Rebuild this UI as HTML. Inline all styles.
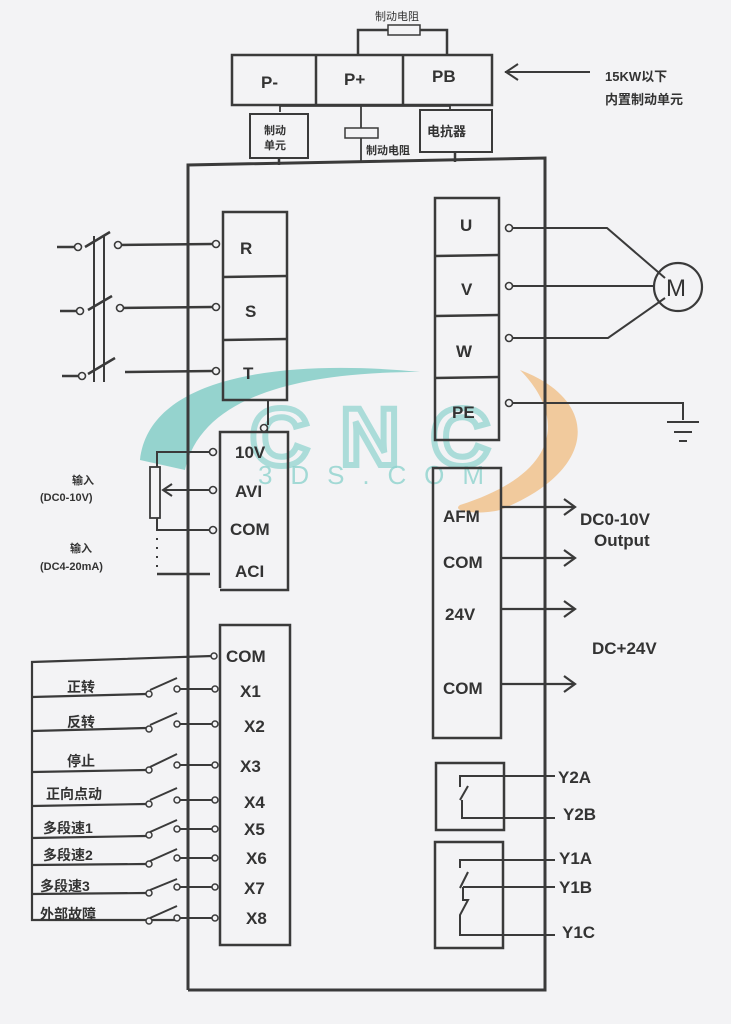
<!DOCTYPE html>
<html><head><meta charset="utf-8"><style>
html,body{margin:0;padding:0;background:#f3f3f5;}
svg{display:block}
text{font-family:"Liberation Sans","Noto Sans CJK SC",sans-serif;fill:#333;font-weight:bold}
</style></head><body>
<svg width="731" height="1024" viewBox="0 0 731 1024" xmlns="http://www.w3.org/2000/svg">
<rect width="731" height="1024" fill="#f3f3f5"/>
<!-- watermark -->
<path d="M140,460 C150,370 300,360 420,372 C290,372 200,400 185,470 Z" fill="#6cc4be" opacity="0.7"/>
<path d="M520,370 C600,400 600,470 500,510 C480,515 450,512 460,505 C570,470 560,410 520,370 Z" fill="#f0b878" opacity="0.7"/>
<text x="250" y="465" font-size="82" style="fill:none;stroke:#8ed3ce;stroke-width:6" opacity="0.7" textLength="240">CNC</text>
<text x="258" y="484" font-size="26" style="fill:#8ed3ce;font-weight:normal" opacity="0.8" textLength="226">3DS.COM</text>
<g stroke="#3a3a3a" stroke-width="2.5" fill="none">
<!-- top -->
<rect x="232" y="55" width="260" height="50"/>
<line x1="316" y1="55" x2="316" y2="105"/><line x1="403" y1="55" x2="403" y2="105"/>
<polyline points="358,55 358,30 447,30 447,55"/>
<rect x="388" y="25" width="32" height="10" fill="#f3f3f5" stroke-width="1.5"/>
<line x1="505" y1="72" x2="590" y2="72" stroke-width="2"/>
<polyline points="518,64 506,72 518,80" stroke-width="2"/>
<polyline points="280,112 280,106 450,106 450,110" stroke-width="1.8"/>
<rect x="250" y="114" width="58" height="44" stroke-width="2"/>
<rect x="420" y="110" width="72" height="42" stroke-width="2"/>
<line x1="361" y1="106" x2="361" y2="162" stroke-width="1.8"/>
<rect x="345" y="128" width="33" height="10" fill="#f3f3f5" stroke-width="1.5"/>
<line x1="279" y1="158" x2="279" y2="165"/><line x1="455" y1="152" x2="455" y2="162"/>
<!-- main -->
<polyline points="188,990 188,165 545,158 545,990 188,990" stroke-width="3"/>
<!-- RST -->
<rect x="223" y="212" width="64" height="188"/>
<line x1="223" y1="277" x2="287" y2="276"/><line x1="223" y1="340" x2="287" y2="339"/>
<line x1="118" y1="245" x2="212" y2="244"/><line x1="120" y1="308" x2="212" y2="307"/><line x1="125" y1="372" x2="212" y2="371"/>
<line x1="57" y1="247" x2="76" y2="247"/><line x1="60" y1="311" x2="78" y2="311"/><line x1="62" y1="376" x2="80" y2="376"/>
<line x1="94" y1="236" x2="94" y2="382" stroke-width="2"/><line x1="104" y1="236" x2="104" y2="382" stroke-width="2"/>
<line x1="85" y1="247" x2="110" y2="232"/><line x1="88" y1="310" x2="112" y2="296"/><line x1="88" y1="374" x2="115" y2="358"/>
<g stroke-width="1.6" fill="#f3f3f5">
<circle cx="78" cy="247" r="3.5"/><circle cx="118" cy="245" r="3.5"/><circle cx="216" cy="244" r="3.5"/>
<circle cx="80" cy="311" r="3.5"/><circle cx="120" cy="308" r="3.5"/><circle cx="216" cy="307" r="3.5"/>
<circle cx="82" cy="376" r="3.5"/><circle cx="216" cy="371" r="3.5"/>
</g>
<!-- analog -->
<polyline points="220,588 220,432 288,432 288,590 220,590"/>
<polyline points="267,432 267,428 264,428" stroke-width="2"/>
<line x1="268" y1="400" x2="268" y2="425" stroke-width="2"/>
<polyline points="157,467 157,452 212,452" stroke-width="2"/>
<rect x="150" y="467" width="10" height="51" stroke-width="1.8"/>
<line x1="163" y1="490" x2="212" y2="490" stroke-width="2"/>
<polyline points="172,484 163,490 172,496" stroke-width="2"/>
<polyline points="157,518 157,530 212,530" stroke-width="2"/>
<line x1="157" y1="538" x2="157" y2="570" stroke-width="2" stroke-dasharray="2,7"/>
<line x1="157" y1="574" x2="210" y2="574"/>
<g stroke-width="1.6" fill="#f3f3f5">
<circle cx="213" cy="452" r="3.5"/><circle cx="213" cy="490" r="3.5"/><circle cx="213" cy="530" r="3.5"/><circle cx="264" cy="428" r="3.5"/>
</g>
<!-- X box -->
<rect x="220" y="625" width="70" height="320"/>
<polyline points="212,656 32,662 32,920 175,920" stroke-width="2.2"/>
<g stroke-width="2.2">
<line x1="32" y1="697" x2="146" y2="694"/><line x1="32" y1="731" x2="146" y2="728"/><line x1="32" y1="772" x2="146" y2="770"/>
<line x1="32" y1="806" x2="146" y2="804"/><line x1="32" y1="838" x2="146" y2="836"/><line x1="32" y1="865" x2="146" y2="864"/>
<line x1="32" y1="894" x2="146" y2="893"/>
</g>
<g stroke-width="2">
<line x1="150" y1="690" x2="177" y2="678"/><line x1="150" y1="725" x2="177" y2="713"/><line x1="150" y1="767" x2="177" y2="754"/>
<line x1="150" y1="800" x2="177" y2="788"/><line x1="150" y1="832" x2="177" y2="820"/><line x1="150" y1="861" x2="177" y2="849"/>
<line x1="150" y1="890" x2="177" y2="879"/><line x1="150" y1="918" x2="177" y2="906"/>
<line x1="180" y1="689" x2="213" y2="689"/><line x1="180" y1="724" x2="213" y2="724"/><line x1="180" y1="765" x2="213" y2="765"/>
<line x1="180" y1="800" x2="213" y2="800"/><line x1="180" y1="829" x2="213" y2="829"/><line x1="180" y1="858" x2="213" y2="858"/>
<line x1="180" y1="887" x2="213" y2="887"/><line x1="180" y1="918" x2="213" y2="918"/>
</g>
<g stroke-width="1.5" fill="#f3f3f5">
<circle cx="214" cy="656" r="3"/>
<circle cx="149" cy="694" r="3"/><circle cx="177" cy="689" r="3"/><circle cx="215" cy="689" r="3"/>
<circle cx="149" cy="729" r="3"/><circle cx="177" cy="724" r="3"/><circle cx="215" cy="724" r="3"/>
<circle cx="149" cy="770" r="3"/><circle cx="177" cy="765" r="3"/><circle cx="215" cy="765" r="3"/>
<circle cx="149" cy="804" r="3"/><circle cx="177" cy="800" r="3"/><circle cx="215" cy="800" r="3"/>
<circle cx="149" cy="835" r="3"/><circle cx="177" cy="829" r="3"/><circle cx="215" cy="829" r="3"/>
<circle cx="149" cy="864" r="3"/><circle cx="177" cy="858" r="3"/><circle cx="215" cy="858" r="3"/>
<circle cx="149" cy="893" r="3"/><circle cx="177" cy="887" r="3"/><circle cx="215" cy="887" r="3"/>
<circle cx="149" cy="921" r="3"/><circle cx="177" cy="918" r="3"/><circle cx="215" cy="918" r="3"/>
</g>
<!-- UVW -->
<rect x="435" y="198" width="64" height="242"/>
<line x1="435" y1="256" x2="499" y2="255"/><line x1="435" y1="316" x2="499" y2="315"/><line x1="435" y1="378" x2="499" y2="377"/>
<polyline points="512,228 607,228 665,278" stroke-width="2"/>
<line x1="512" y1="286" x2="654" y2="286" stroke-width="2"/>
<polyline points="512,338 608,338 665,298" stroke-width="2"/>
<polyline points="512,403 683,403 683,420" stroke-width="2"/>
<line x1="667" y1="422" x2="699" y2="422" stroke-width="2"/><line x1="674" y1="432" x2="692" y2="432" stroke-width="2"/><line x1="679" y1="441" x2="687" y2="441" stroke-width="2"/>
<circle cx="678" cy="287" r="24" stroke-width="2.2"/>
<g stroke-width="1.6" fill="#f3f3f5">
<circle cx="509" cy="228" r="3.5"/><circle cx="509" cy="286" r="3.5"/><circle cx="509" cy="338" r="3.5"/><circle cx="509" cy="403" r="3.5"/>
</g>
<!-- AFM -->
<rect x="433" y="468" width="68" height="270"/>
<g stroke-width="2.2">
<line x1="501" y1="507" x2="574" y2="507"/><polyline points="564,499 575,507 564,515"/>
<line x1="501" y1="558" x2="574" y2="558"/><polyline points="564,550 575,558 564,566"/>
<line x1="501" y1="609" x2="574" y2="609"/><polyline points="564,601 575,609 564,617"/>
<line x1="501" y1="684" x2="574" y2="684"/><polyline points="564,676 575,684 564,692"/>
</g>
<!-- relays -->
<rect x="436" y="763" width="68" height="67"/>
<rect x="435" y="842" width="68" height="106"/>
<g stroke-width="2">
<polyline points="555,776 460,776 460,787"/><line x1="460" y1="800" x2="468" y2="786"/>
<polyline points="462,800 462,818 555,818"/>
<polyline points="555,860 460,860 460,868"/><line x1="460" y1="888" x2="468" y2="872"/>
<polyline points="463,887 555,887"/><polyline points="463,887 463,900 468,900 460,915 460,935 555,935"/>
</g>
</g>
<!-- labels -->
<g font-size="17">
<text x="261" y="88">P-</text><text x="344" y="85">P+</text><text x="432" y="82">PB</text>
<text x="240" y="254">R</text><text x="245" y="317">S</text><text x="243" y="379">T</text>
<text x="460" y="231">U</text><text x="461" y="295">V</text><text x="456" y="357">W</text><text x="452" y="418">PE</text>
<text x="235" y="458">10V</text><text x="235" y="497">AVI</text><text x="230" y="535">COM</text><text x="235" y="577">ACI</text>
<text x="226" y="662">COM</text>
<text x="240" y="697">X1</text><text x="244" y="732">X2</text><text x="240" y="772">X3</text><text x="244" y="808">X4</text>
<text x="244" y="835">X5</text><text x="246" y="864">X6</text><text x="244" y="894">X7</text><text x="246" y="924">X8</text>
<text x="443" y="522">AFM</text><text x="443" y="568">COM</text><text x="445" y="620">24V</text><text x="443" y="694">COM</text>
<text x="580" y="525">DC0-10V</text><text x="594" y="546">Output</text><text x="592" y="654">DC+24V</text>
<text x="558" y="783">Y2A</text><text x="563" y="820">Y2B</text><text x="559" y="864">Y1A</text><text x="559" y="893">Y1B</text><text x="562" y="938">Y1C</text>
<text x="666" y="296" font-size="24" style="font-weight:normal">M</text>
</g>
<g font-size="14">
<text x="67" y="692">正转</text><text x="67" y="727">反转</text><text x="67" y="766">停止</text><text x="46" y="799">正向点动</text>
<text x="43" y="833">多段速1</text><text x="43" y="860">多段速2</text><text x="40" y="891">多段速3</text><text x="40" y="919">外部故障</text>
</g>
<g font-size="11">
<text x="375" y="20" style="font-weight:normal">制动电阻</text>
<text x="605" y="81" font-size="13">15KW以下</text><text x="605" y="104" font-size="13">内置制动单元</text>
<text x="264" y="134">制动</text><text x="264" y="149">单元</text>
<text x="366" y="154">制动电阻</text>
<text x="427" y="136" font-size="13">电抗器</text>
<text x="72" y="484">输入</text><text x="40" y="501">(DC0-10V)</text>
<text x="70" y="552">输入</text><text x="40" y="570">(DC4-20mA)</text>
</g>
</svg>
</body></html>
